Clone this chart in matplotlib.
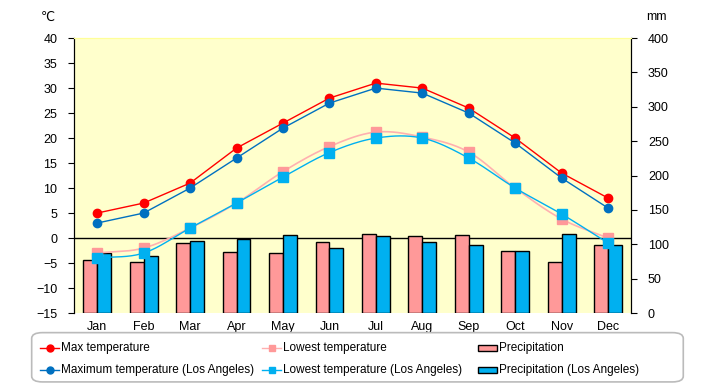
import numpy as np
import matplotlib
matplotlib.use('Agg')
import matplotlib.pyplot as plt
from matplotlib.lines import Line2D
from matplotlib.patches import Rectangle, FancyBboxPatch

plt.rcParams['font.family'] = ['Liberation Sans', 'DejaVu Sans']

# data
months = ['Jan', 'Feb', 'Mar', 'Apr', 'May', 'Jun', 'Jul', 'Aug', 'Sep', 'Oct', 'Nov', 'Dec']
max_temp = [5, 7, 11, 18, 23, 28, 31, 30, 26, 20, 13, 8]
max_temp_la = [3, 5, 10, 16, 22, 27, 30, 29, 25, 19, 12, 6]
low_temp = [-3, -2, 2, 7, 13.3, 18.3, 21.2, 20.2, 17.2, 10, 3.8, 0]
low_temp_la = [-4, -3, 2, 7, 12.2, 17.1, 20, 20, 16, 10, 4.8, -1]
precip = [77, 74, 102, 89, 87, 104, 115, 112, 114, 90, 74, 99]
precip_la = [87, 83, 105, 108, 113, 94, 112, 104, 99, 90, 115, 99]


def smooth(x, y, n=20):
    # Catmull-Rom path through the data points (drawing only)
    x = np.asarray(x, float)
    y = np.asarray(y, float)
    px = np.concatenate([[2 * x[0] - x[1]], x, [2 * x[-1] - x[-2]]])
    py = np.concatenate([[2 * y[0] - y[1]], y, [2 * y[-1] - y[-2]]])
    xs, ys = [], []
    t = np.linspace(0, 1, n)
    for i in range(1, len(px) - 2):
        for p, out in ((px, xs), (py, ys)):
            p0, p1, p2, p3 = p[i - 1], p[i], p[i + 1], p[i + 2]
            out.extend(0.5 * (2 * p1 + (-p0 + p2) * t
                              + (2 * p0 - 5 * p1 + 4 * p2 - p3) * t ** 2
                              + (-p0 + 3 * p1 - 3 * p2 + p3) * t ** 3))
    return xs, ys


x = np.arange(len(months))
red = '#FF0000'
dblue = '#0070C0'
pink = '#FF9999'
pinkline = '#FFB0B0'
lblue = '#00B0F0'

fig = plt.figure(figsize=(7.2, 3.85), dpi=100)
ax2 = fig.add_axes([0.1028, 0.187, 0.774, 0.714])
ax = ax2.twinx()
ax.yaxis.tick_left()
ax2.yaxis.tick_right()
ax.set_zorder(ax2.get_zorder() + 1)
ax.patch.set_visible(False)
ax2.set_facecolor('#FFFFCC')

# precipitation bars on the right axis
w = 0.3
ax2.axhline(109.1, color='black', lw=1, zorder=0.5)
ax2.bar(x - w / 2, precip, w, color=pink, edgecolor='black', lw=1, zorder=2)
ax2.bar(x + w / 2, precip_la, w, color=lblue, edgecolor='black', lw=1, zorder=2)
ax2.set_ylim(0, 400)
ax2.set_yticks(range(0, 401, 50))

# temperature lines on the left axis
sx, sy = smooth(x, low_temp)
ax.plot(sx, sy, color=pinkline, lw=1.2)
ax.plot(x, low_temp, ls='none', marker='s', ms=6.5, color=pink)
sx, sy = smooth(x, low_temp_la)
ax.plot(sx, sy, color=lblue, lw=1)
ax.plot(x, low_temp_la, ls='none', marker='s', ms=6.5, color=lblue)
ax.plot(x, max_temp, color=red, lw=1, marker='o', ms=6)
ax.plot(x, max_temp_la, color=dblue, lw=1, marker='o', ms=6)
ax.set_ylim(-15, 40)
ax.set_yticks(range(-15, 41, 5))
ax.set_xlim(-0.5, 11.5)
ax2.set_xlim(-0.5, 11.5)
ax2.set_xticks(x)
ax2.set_xticklabels(months)

for a in (ax, ax2):
    a.spines['top'].set_color('#FFFF99')
    a.spines['bottom'].set_visible(False)
    a.spines['left'].set_color('black')
    a.spines['right'].set_color('black')
    a.tick_params(labelsize=9, length=4, color='black')
ax2.tick_params(axis='x', length=0, pad=6)
ax.tick_params(axis='y', pad=8)
ax2.tick_params(axis='y', pad=8)

fig.text(0.066, 0.955, '℃', fontsize=9, ha='center', va='center',
         family=['DejaVu Sans'])
fig.text(0.912, 0.955, 'mm', fontsize=9, ha='center', va='center')

# legend box, items placed by hand in figure pixels
box = FancyBboxPatch((0.044, 0.008), 0.905, 0.128, boxstyle='round,pad=0,rounding_size=0.015',
                     transform=fig.transFigure, facecolor='white', edgecolor='#BBBBBB', lw=1.2)
fig.patches.append(box)

W, H = 720.0, 385.0
rows = [348, 370]
cols = [40, 262, 478]
line_items = [
    (cols[0], rows[0], red, red, 'o', 'Max temperature'),
    (cols[0], rows[1], dblue, dblue, 'o', 'Maximum temperature (Los Angeles)'),
    (cols[1], rows[0], pinkline, pink, 's', 'Lowest temperature'),
    (cols[1], rows[1], lblue, lblue, 's', 'Lowest temperature (Los Angeles)'),
]
for cx, cy, lc, mc, mk, lab in line_items:
    yy = 1 - cy / H
    fig.add_artist(Line2D([cx / W, (cx + 19) / W], [yy, yy], color=lc, lw=1,
                          transform=fig.transFigure))
    fig.add_artist(Line2D([(cx + 9.5) / W], [yy], color=mc, marker=mk, ms=5,
                          transform=fig.transFigure))
    fig.text((cx + 21) / W, yy, lab, fontsize=8.5, va='center', ha='left')
for cy, fc, lab in [(rows[0], pink, 'Precipitation'), (rows[1], lblue, 'Precipitation (Los Angeles)')]:
    yy = 1 - cy / H
    fig.patches.append(Rectangle((cols[2] / W, yy - 3 / H), 19 / W, 6 / H, facecolor=fc,
                                 edgecolor='black', lw=1, transform=fig.transFigure))
    fig.text((cols[2] + 21) / W, yy, lab, fontsize=8.5, va='center', ha='left')

fig.savefig('out.png', dpi=100)
